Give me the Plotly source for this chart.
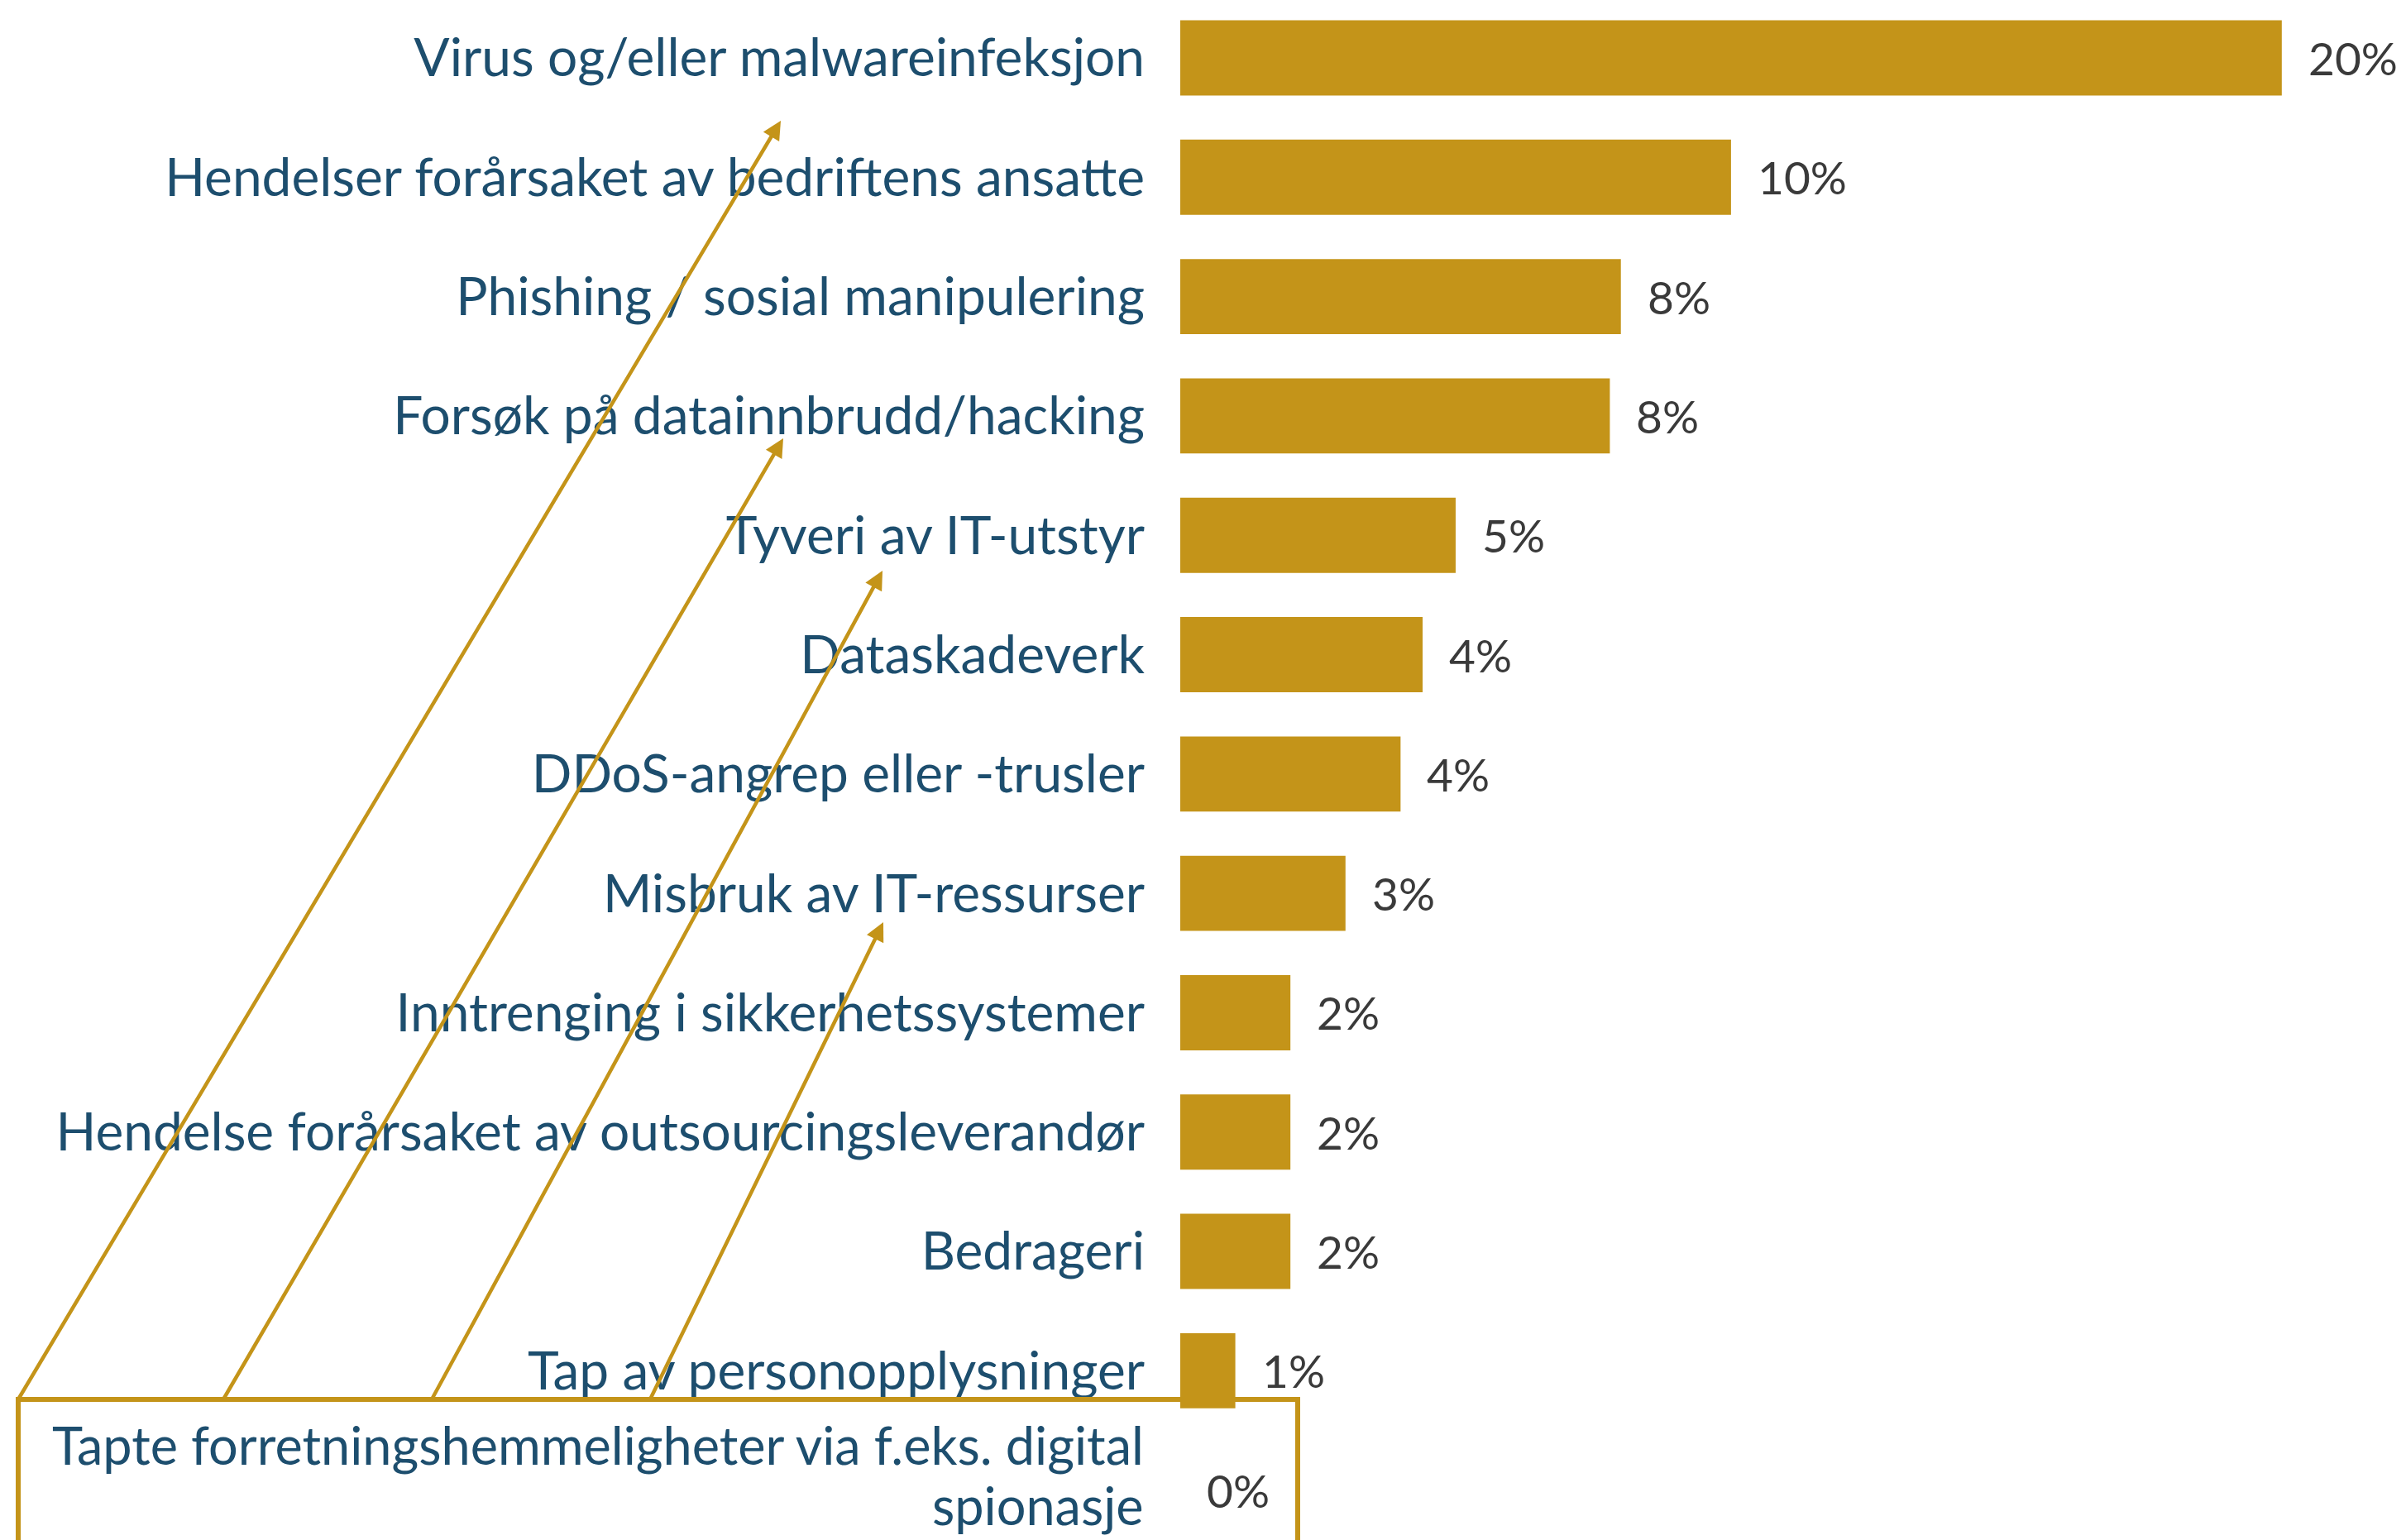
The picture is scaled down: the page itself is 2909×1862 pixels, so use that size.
import plotly.graph_objects as go

categories = [
    "Virus og/eller malwareinfeksjon",
    "Hendelser forårsaket av bedriftens ansatte",
    "Phishing / sosial manipulering",
    "Forsøk på datainnbrudd/hacking",
    "Tyveri av IT-utstyr",
    "Dataskadeverk",
    "DDoS-angrep eller -trusler",
    "Misbruk av IT-ressurser",
    "Inntrenging i sikkerhetssystemer",
    "Hendelse forårsaket av outsourcingsleverandør",
    "Bedrageri",
    "Tap av personopplysninger",
    "Tapte forretningshemmeligheter via f.eks. digital spionasje",
]
# the last category label is shown on two lines
last_label_lines = ["Tapte forretningshemmeligheter via f.eks. digital", "spionasje"]
values = [20.0, 10.0, 8.0, 7.8, 5.0, 4.4, 4.0, 3.0, 2.0, 2.0, 2.0, 1.0, 0.0]
value_labels = ["20%", "10%", "8%", "8%", "5%", "4%", "4%", "3%", "2%", "2%", "2%", "1%", "0%"]

W_PX, H_PX = 2909, 1862
L_PX, R_PX = 1427, 17
PLOT_W = W_PX - L_PX - R_PX

GOLD = "#C49419"
LABEL_COLOR = "#1d4e6e"
VALUE_COLOR = "#3a3a3a"
LABEL_FONT = dict(family="Lato", size=64, color=LABEL_COLOR)
LAST_FONT = dict(family="Lato", size=63, color=LABEL_COLOR)


def px_x(p):
    return (p - L_PX) / PLOT_W


def px_y(p):
    return 1 - p / H_PX


fig = go.Figure(
    go.Bar(
        x=values,
        y=categories,
        orientation="h",
        marker=dict(color=GOLD, line=dict(width=0)),
        hoverinfo="skip",
    )
)

annotations = []
for cat, v, lab in zip(categories, values, value_labels):
    annotations.append(
        dict(
            x=v, y=cat, xref="x", yref="y", text=lab, showarrow=False,
            xanchor="left", yanchor="middle", xshift=30,
            font=dict(family="Lato", size=55, color=VALUE_COLOR),
        )
    )

# two-line label of the last category
for line, shift in zip(last_label_lines, [55, -18]):
    annotations.append(
        dict(
            x=0, y=categories[-1], xref="paper", yref="y", text=line, showarrow=False,
            xanchor="right", yanchor="middle", xshift=-42, yshift=shift,
            font=LAST_FONT,
        )
    )

# arrows from the highlight box up to the labels (tail -> tip, in pixels)
arrow_tails = [(22, 1692), (270, 1692), (522, 1692), (786, 1692)]
arrow_tips = [(944, 146), (947, 530), (1067, 690), (1068, 1115)]
for (tx, ty), (hx, hy) in zip(arrow_tails, arrow_tips):
    annotations.append(
        dict(
            x=px_x(hx), y=px_y(hy), xref="paper", yref="paper",
            axref="pixel", ayref="pixel",
            ax=tx - hx, ay=ty - hy, text="", showarrow=True,
            arrowhead=2, arrowsize=1.0, arrowwidth=4.5, arrowcolor=GOLD,
            standoff=0, startstandoff=0,
        )
    )

shapes = [
    dict(
        type="rect", xref="paper", yref="paper",
        x0=px_x(22), x1=px_x(1569), y0=px_y(1692), y1=px_y(1920),
        line=dict(color=GOLD, width=6), fillcolor="rgba(0,0,0,0)", layer="above",
    )
]

ticktext = categories[:-1] + [""]

fig.update_layout(
    width=W_PX, height=H_PX,
    margin=dict(l=L_PX, r=R_PX, t=0, b=0),
    paper_bgcolor="white", plot_bgcolor="white",
    bargap=0.37,
    showlegend=False,
    annotations=annotations,
    shapes=shapes,
    xaxis=dict(range=[0, 22], visible=False, fixedrange=True),
    yaxis=dict(
        type="category",
        range=[12.418, -0.485],
        tickmode="array", tickvals=categories, ticktext=ticktext,
        showgrid=False, zeroline=False, showline=False, ticks="",
        ticklabelstandoff=42,
        tickfont=LABEL_FONT,
        fixedrange=True,
    ),
)

fig.write_html(
    "out.html",
    config={"displayModeBar": False},
    post_script="document.body.style.margin='0px';document.body.style.overflow='hidden';",
)
